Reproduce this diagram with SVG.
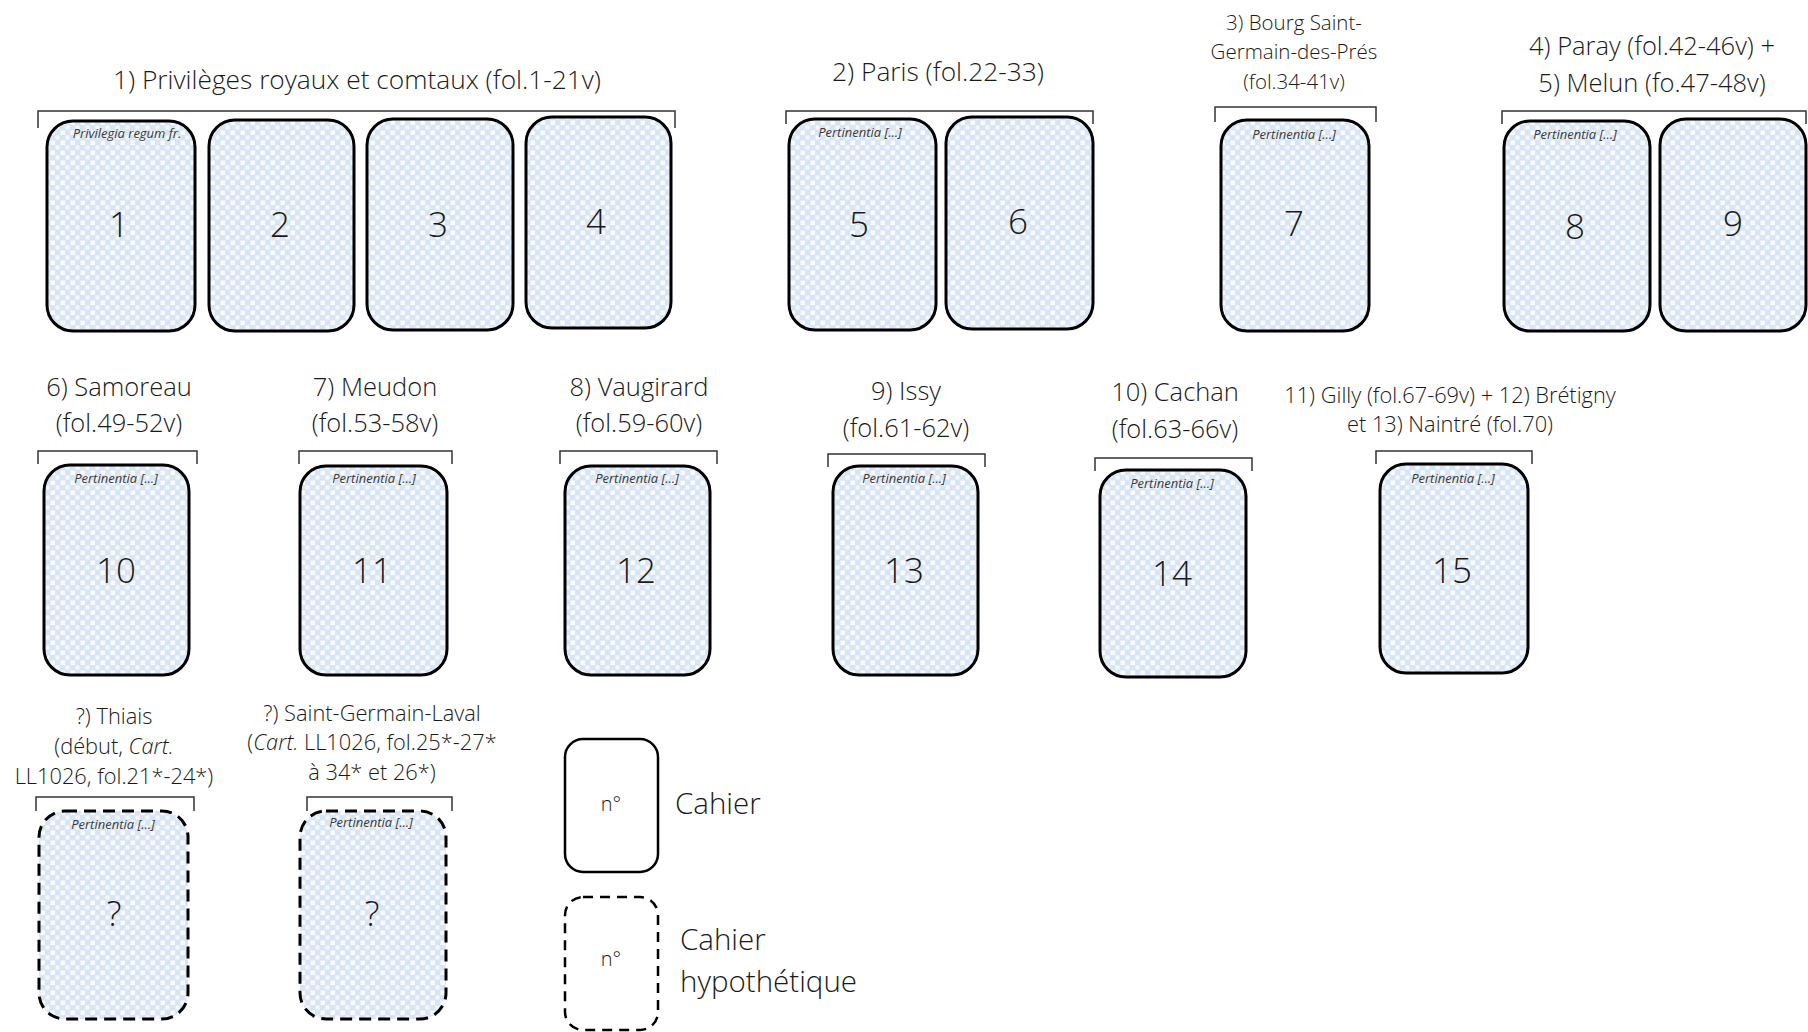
<svg xmlns="http://www.w3.org/2000/svg" width="1808" height="1032" viewBox="0 0 1808 1032">
<defs>
<pattern id="conf" width="10" height="10" patternUnits="userSpaceOnUse">
<rect width="10" height="10" fill="#d8e5f4"/>
<rect x="0.5" y="0.5" width="4.5" height="4.5" fill="#ffffff" opacity="0.85"/>
<rect x="5.5" y="5.5" width="4" height="4" fill="#ffffff" opacity="0.75"/>
</pattern>
<style>
.card{fill:url(#conf);stroke:#000;stroke-width:3}
.hyp{fill:url(#conf);stroke:#000;stroke-width:3;stroke-dasharray:12 7}
.leg{fill:#fff;stroke:#000;stroke-width:2.5}
.legd{fill:#fff;stroke:#000;stroke-width:2.5;stroke-dasharray:10 7}
.br{fill:none;stroke:#333;stroke-width:1.5}
text{font-family:"Open Sans","Noto Sans","DejaVu Sans",sans-serif;fill:#1a1a1a;text-anchor:middle;font-weight:350}
.t{font-size:26.3px}
.t4{font-size:25.5px}
.t2{font-size:25.5px}
.ts{font-size:20.5px}
.tg{font-size:21.8px}
.t3{font-size:21.8px}
.num{font-size:35px}
.lab{font-size:13px;font-style:italic;fill:#3a3a3a;font-weight:400}
.lg{font-size:29.5px;text-anchor:start}
.no{font-size:20px}
</style>
</defs>

<g id="connectors">
<path class="br" d="M38 128V111H675V128"/>
<path class="br" d="M786 124V111H1093V124"/>
<path class="br" d="M1215 122V107H1376V122"/>
<path class="br" d="M1502 124V111H1806V124"/>
<path class="br" d="M38 464V451H197V464"/>
<path class="br" d="M299 464V451H452V464"/>
<path class="br" d="M560 464V451H717V464"/>
<path class="br" d="M828 467V454H985V467"/>
<path class="br" d="M1095 471V458H1252V471"/>
<path class="br" d="M1376 464V451H1532V464"/>
<path class="br" d="M36 811V797H194V811"/>
<path class="br" d="M307 811V797H452V811"/>
</g>

<g id="group1">
<text class="t" x="357" y="89">1)  Privilèges royaux et comtaux (fol.1-21v)</text>
</g>
<g id="card1"><rect class="card" x="47" y="121" width="148" height="210" rx="26"/><text class="lab" x="127" y="138">Privilegia regum fr.</text><text class="num" x="119" y="237">1</text></g>
<g id="card2"><rect class="card" x="209" y="120" width="145" height="211" rx="26"/><text class="num" x="280" y="237">2</text></g>
<g id="card3"><rect class="card" x="367" y="119" width="146" height="211" rx="26"/><text class="num" x="438" y="237">3</text></g>
<g id="card4"><rect class="card" x="526" y="117" width="145" height="211" rx="26"/><text class="num" x="596" y="234">4</text></g>

<g id="group2"><text class="t" x="938" y="81">2) Paris (fol.22-33)</text></g>
<g id="card5"><rect class="card" x="789" y="119" width="147" height="211" rx="26"/><text class="lab" x="860" y="137">Pertinentia […]</text><text class="num" x="859" y="237">5</text></g>
<g id="card6"><rect class="card" x="946" y="117" width="147" height="212" rx="26"/><text class="num" x="1018" y="234">6</text></g>

<g id="group3"><text class="ts" x="1294" y="30">3) Bourg Saint-</text><text class="ts" x="1294" y="59">Germain-des-Prés</text><text class="ts" x="1294" y="89">(fol.34-41v)</text></g>
<g id="card7"><rect class="card" x="1221" y="120" width="148" height="211" rx="26"/><text class="lab" x="1294" y="139">Pertinentia […]</text><text class="num" x="1294" y="236">7</text></g>

<g id="group4"><text class="t4" x="1652" y="55">4) Paray (fol.42-46v) +</text><text class="t4" x="1652" y="92">5) Melun (fo.47-48v)</text></g>
<g id="card8"><rect class="card" x="1504" y="121" width="146" height="210" rx="26"/><text class="lab" x="1575" y="139">Pertinentia […]</text><text class="num" x="1575" y="239">8</text></g>
<g id="card9"><rect class="card" x="1660" y="119" width="146" height="212" rx="26"/><text class="num" x="1733" y="236">9</text></g>

<g id="group6"><text class="t2" x="119" y="396">6) Samoreau</text><text class="t2" x="119" y="432">(fol.49-52v)</text></g>
<g id="card10"><rect class="card" x="44" y="465" width="145" height="210" rx="26"/><text class="lab" x="116" y="483">Pertinentia […]</text><text class="num" x="116" y="583">10</text></g>

<g id="group7"><text class="t2" x="375" y="396">7) Meudon</text><text class="t2" x="375" y="432">(fol.53-58v)</text></g>
<g id="card11"><rect class="card" x="300" y="466" width="147" height="209" rx="26"/><text class="lab" x="374" y="483">Pertinentia […]</text><text class="num" x="372" y="583">11</text></g>

<g id="group8"><text class="t2" x="639" y="396">8) Vaugirard</text><text class="t2" x="639" y="432">(fol.59-60v)</text></g>
<g id="card12"><rect class="card" x="565" y="466" width="145" height="209" rx="26"/><text class="lab" x="637" y="483">Pertinentia […]</text><text class="num" x="636" y="583">12</text></g>

<g id="group9"><text class="t2" x="906" y="400">9) Issy</text><text class="t2" x="906" y="437">(fol.61-62v)</text></g>
<g id="card13"><rect class="card" x="833" y="466" width="145" height="209" rx="26"/><text class="lab" x="904" y="483">Pertinentia […]</text><text class="num" x="904" y="583">13</text></g>

<g id="group10"><text class="t2" x="1175" y="401">10) Cachan</text><text class="t2" x="1175" y="438">(fol.63-66v)</text></g>
<g id="card14"><rect class="card" x="1100" y="470" width="146" height="207" rx="26"/><text class="lab" x="1172" y="488">Pertinentia […]</text><text class="num" x="1172" y="586">14</text></g>

<g id="group11"><text class="tg" x="1450" y="403">11) Gilly (fol.67-69v) + 12) Brétigny</text><text class="tg" x="1450" y="432">et 13) Naintré (fol.70)</text></g>
<g id="card15"><rect class="card" x="1380" y="464" width="148" height="209" rx="26"/><text class="lab" x="1453" y="483">Pertinentia […]</text><text class="num" x="1452" y="583">15</text></g>

<g id="groupThiais"><text class="t3" x="114" y="724">?) Thiais</text><text class="t3" x="114" y="754">(début, <tspan font-style="italic">Cart.</tspan></text><text class="t3" x="114" y="784">LL1026, fol.21*-24*)</text></g>
<g id="cardThiais"><rect class="hyp" x="39" y="811" width="149" height="208" rx="26"/><text class="lab" x="113" y="829">Pertinentia […]</text><text class="num" x="114" y="926">?</text></g>

<g id="groupSGL"><text class="t3" x="372" y="721">?) Saint-Germain-Laval</text><text class="t3" x="372" y="750">(<tspan font-style="italic">Cart.</tspan> LL1026, fol.25*-27*</text><text class="t3" x="372" y="780">à 34* et 26*)</text></g>
<g id="cardSGL"><rect class="hyp" x="300" y="811" width="146" height="208" rx="26"/><text class="lab" x="371" y="827">Pertinentia […]</text><text class="num" x="372" y="926">?</text></g>

<g id="legend1"><rect class="leg" x="565" y="739" width="93" height="133" rx="18"/><text class="no" x="611" y="811">n°</text><text class="lg" x="675" y="814">Cahier</text></g>
<g id="legend2"><rect class="legd" x="565" y="897" width="93" height="133" rx="18"/><text class="no" x="611" y="966">n°</text><text class="lg" x="680" y="950">Cahier</text><text class="lg" x="680" y="992">hypothétique</text></g>
</svg>
